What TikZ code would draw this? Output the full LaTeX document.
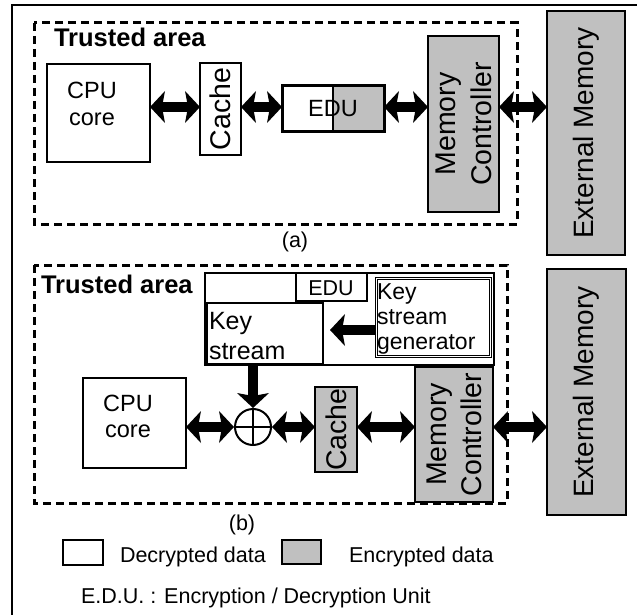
\documentclass[tikz,border=0pt]{standalone}
\usepackage{fontspec}
\setmainfont{Liberation Sans}
\usetikzlibrary{arrows.meta,fit,calc}
\definecolor{encgray}{RGB}{192,192,192}
\newcommand{\fsz}[2]{\fontsize{#1}{#2}\selectfont}
\begin{document}
\begin{tikzpicture}[x=1pt,y=-1pt,
  box/.style={draw, line width=2pt, inner sep=0pt, outer sep=0pt},
  enc/.style={box, fill=encgray},
  trustline/.style={draw, line width=3pt, dash pattern=on 8pt off 5pt},
  link/.style={line width=10pt, {Stealth[length=15pt,width=32pt,inset=3pt,line width=0pt]}-{Stealth[length=15pt,width=32pt,inset=3pt,line width=0pt]}},
  onearrow/.style={line width=10pt, -{Stealth[length=15pt,width=32pt,inset=3pt,line width=0pt]}},
  lbl/.style={inner sep=0pt, outer sep=0pt},
]
\useasboundingbox (0,0) rectangle (637,615);
% outer frame (top and left visible)
\coordinate (frTR) at (637,5);
\coordinate (frTL) at (12,5);
\coordinate (frBL) at (12,615);
\draw[line width=1.4pt] (frTR) -- (frTL) -- (frBL);

% ================= (a) =================
\coordinate (rowA) at (0,107);
\node[box, fit={(47,64) (150,162)}] (cpuA) {};
\node[lbl, anchor=north, align=center, font=\fsz{23.5}{27}] (cpuAtxt) at (92,82) {CPU\\core};
\node[box, fit={(200,63) (241,155)}] (cacheA) {};
\node[lbl, rotate=90, font=\fsz{28.5}{34}] (cacheAtxt) at (cacheA.center) {Cache};
\node[lbl, fit={(282,86) (384,132)}] (eduA) {};
\fill[encgray] (eduA.north) rectangle (eduA.south east);
\draw[line width=3pt] (eduA.north west) rectangle (eduA.south east);
\draw[line width=2.2pt] (eduA.north) -- (eduA.south);
\node[lbl, font=\fsz{23.5}{28}] (eduAtxt) at (333,109) {EDU};
\node[enc, fit={(428,36) (499,212)}] (mcA) {};
\node[lbl, rotate=90, align=center, font=\fsz{28.5}{36}] (mcAtxt) at (mcA.center) {Memory\\Controller};
\node[enc, fit={(547,11) (625,255)}] (extA) {};
\node[lbl, rotate=90, font=\fsz{28}{34}] (extAtxt) at (586,133) {External Memory};

\draw[link] (cpuA.east |- rowA) -- (cacheA.west |- rowA);
\draw[link] (cacheA.east |- rowA) -- (eduA.west |- rowA);
\draw[link] (eduA.east |- rowA) -- (mcA.west |- rowA);
\draw[link] (mcA.east |- rowA) -- (extA.west |- rowA);

\draw[trustline] (34,23) rectangle (517,224);
\node[lbl, anchor=base west, font=\fsz{25.5}{30}\bfseries] (trustA) at (54,47) {Trusted area};
\node[lbl, font=\fsz{21.5}{25}] (capA) at (295,242) {(a)};

% ================= (b) =================
\coordinate (rowB) at (0,427);
\node[box, line width=2.2pt, fill=white, fit={(205,273) (494,365)}] (eduB) {};
\node[box, line width=1.6pt, fit={(296,273) (367,301)}] (eduTag) {};
\node[lbl, font=\fsz{21.5}{25}] (eduTagtxt) at (331,288) {EDU};
\node[box, line width=1.6pt, fit={(207,303) (323,364)}] (ksB) {};
\node[lbl, anchor=north west, align=left, font=\fsz{25}{30}] (ksBtxt) at (209,312) {Key\\stream};
\node[draw, double, double distance=1.4pt, line width=1pt, inner sep=0pt, fit={(376.5,278.5) (490.5,356.5)}] (genB) {};
\node[lbl, anchor=north west, align=left, font=\fsz{23}{25}] (genBtxt) at (377,284) {Key\\stream\\generator};
\coordinate (ksTip) at (330,330);
\draw[onearrow] (genB.west |- ksTip) -- (ksTip);

\node[box, fit={(83,378) (186,468)}] (cpuB) {};
\node[lbl, anchor=north, align=center, font=\fsz{23.5}{26}] (cpuBtxt) at (128,395) {CPU\\core};
\node[circle, draw, line width=2pt, minimum size=36pt, inner sep=0pt] (xor) at (253,427) {};
\draw[line width=1.6pt] (xor.north) -- (xor.south) (xor.west) -- (xor.east);
\node[enc, fit={(315,387) (357,472)}] (cacheB) {};
\node[lbl, rotate=90, font=\fsz{28.5}{34}] (cacheBtxt) at (cacheB.center) {Cache};
\node[enc, fit={(415,367) (493,502)}] (mcB) {};
\node[lbl, rotate=90, align=center, font=\fsz{28.5}{35}] (mcBtxt) at (mcB.center) {Memory\\Controller};
\node[enc, fit={(547,269) (626,515)}] (extB) {};
\node[lbl, rotate=90, font=\fsz{28}{34}] (extBtxt) at (586,392) {External Memory};

\draw[onearrow] (ksB.south -| xor.north) -- (xor.north);
\draw[link] (cpuB.east |- rowB) -- (xor.west |- rowB);
\draw[link] (xor.east |- rowB) -- (cacheB.west |- rowB);
\draw[link] (cacheB.east |- rowB) -- (mcB.west |- rowB);
\draw[link] (mcB.east |- rowB) -- (extB.west |- rowB);

\draw[trustline] (34,265) rectangle (507,503);
\node[lbl, anchor=base west, font=\fsz{25.5}{30}\bfseries] (trustB) at (41,293) {Trusted area};
\node[lbl, font=\fsz{21.5}{25}] (capB) at (242,525) {(b)};

% ================= legend =================
\node[box, line width=1.4pt, fit={(63,540) (103,565)}] (legW) {};
\node[lbl, anchor=base west, font=\fsz{21.5}{26}] (legWtxt) at (120,562) {Decrypted data};
\node[enc, line width=1.4pt, fit={(282,540) (321,564)}] (legG) {};
\node[lbl, anchor=base west, font=\fsz{21.5}{26}] (legGtxt) at (349,562) {Encrypted data};
\node[lbl, anchor=base west, font=\fsz{21.5}{26}] (edutxt) at (81,603) {E.D.U. : Encryption / Decryption Unit};
\end{tikzpicture}
\end{document}
